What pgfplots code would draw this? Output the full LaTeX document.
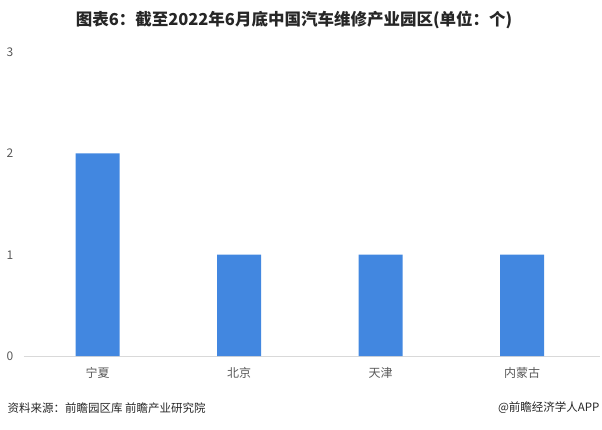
\documentclass[border=0pt]{standalone}
\usepackage{fontspec}
\setmainfont{Noto Sans CJK SC}
\usepackage{pgfplots}
\pgfplotsset{compat=1.18}
\definecolor{barblue}{HTML}{4287E0}
\definecolor{txtgrey}{HTML}{595959}
\definecolor{axgrey}{HTML}{D9D9D9}
\begin{document}
\begin{tikzpicture}[x=1pt,y=1pt]
\useasboundingbox (0,0) rectangle (602,429);
\begin{axis}[
    at={(24pt,73pt)}, anchor=south west,
    scale only axis,
    width=576pt, height=304pt,
    ybar, bar width=44pt,
    xmin=-0.52, xmax=3.55,
    ymin=0, ymax=3,
    xtick=data,
    xticklabels={宁夏,北京,天津,内蒙古},
    ytick={0,1,2,3},
    axis y line=none,
    axis x line*=bottom,
    x axis line style={draw=axgrey, line width=0.8pt, -},
    major tick length=0pt,
    tick label style={font=\fontsize{12}{14}\selectfont, text=txtgrey},
    xticklabel style={yshift=-8pt},
    /pgf/number format/assume math mode=true,
    clip=false,
]
\addplot[draw=none, fill=barblue] coordinates {(0,2) (1,1) (2,1) (3,1)};
\end{axis}
\foreach \v/\yy in {0/73,1/174,2/276,3/377}
  \node[font=\fontsize{12}{14}\selectfont, text=txtgrey] at (10,\yy) {\v};
\node[font=\bfseries\fontsize{16.5}{18}\selectfont, text=black!85] at (294,409) {图表6：截至2022年6月底中国汽车维修产业园区(单位：个)};
\node[anchor=west, font=\fontsize{11.5}{13}\selectfont, text=black!85] at (4,21) {资料来源：前瞻园区库 前瞻产业研究院};
\node[anchor=east, font=\fontsize{11.5}{13}\selectfont, text=black!85] at (603,21) {@前瞻经济学人APP};
\end{tikzpicture}
\end{document}
